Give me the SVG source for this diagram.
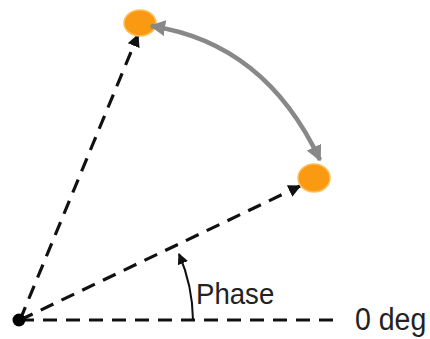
<svg xmlns="http://www.w3.org/2000/svg" width="430" height="339" viewBox="0 0 430 339">
  <style>
    .dash { fill: none; stroke: #111; stroke-width: 3.2; stroke-dasharray: 14 9; }
    .phase { fill: none; stroke: #111; stroke-width: 2; }
    .swing { fill: none; stroke: #888; stroke-width: 4.5; }
    .pt { fill: #FA9A12; stroke: #FDBF5A; stroke-width: 1.5; }
    .lbl { font-family: "Liberation Sans", Arial, sans-serif; fill: #222; }
  </style>
  <defs>
    <marker id="ah" viewBox="0 0 10 10" refX="9" refY="5" markerWidth="4" markerHeight="4" orient="auto" markerUnits="strokeWidth">
      <path d="M0,0 L10,5 L0,10 z" fill="#111"/>
    </marker>
    <marker id="ahs" viewBox="0 0 10 10" refX="9" refY="5" markerWidth="5.5" markerHeight="5.5" orient="auto" markerUnits="strokeWidth">
      <path d="M0,0 L10,5 L0,10 z" fill="#111"/>
    </marker>
    <marker id="ag" viewBox="0 0 10 10" refX="9" refY="5" markerWidth="3.5" markerHeight="3.5" orient="auto-start-reverse" markerUnits="strokeWidth">
      <path d="M0,0 L10,5 L0,10 z" fill="#888"/>
    </marker>
  </defs>

  <g id="connectors">
    <line class="dash" x1="20" y1="320" x2="342" y2="320"/>
    <line class="dash" x1="20" y1="320" x2="138" y2="35" marker-end="url(#ah)"/>
    <line class="dash" x1="20" y1="320" x2="300" y2="186" marker-end="url(#ah)"/>
    <path class="phase" d="M193,320 A173,173 0 0 0 179,254" marker-end="url(#ahs)"/>
  </g>

  <g id="origin">
    <circle cx="19" cy="320" r="6.5" fill="#000"/>
  </g>

  <g id="point-a">
    <ellipse class="pt" cx="140" cy="23" rx="16" ry="13"/>
  </g>

  <g id="point-b">
    <ellipse class="pt" cx="314" cy="178" rx="16" ry="14"/>
  </g>

  <g id="swing">
    <path class="swing" d="M151,26 Q265,43 320,160" marker-start="url(#ag)" marker-end="url(#ag)"/>
  </g>

  <g id="labels">
    <text class="lbl" transform="translate(196,304) scale(0.92,1)" font-size="30">Phase</text>
    <text class="lbl" transform="translate(355,330) scale(0.92,1)" font-size="31">0 deg</text>
  </g>
</svg>
